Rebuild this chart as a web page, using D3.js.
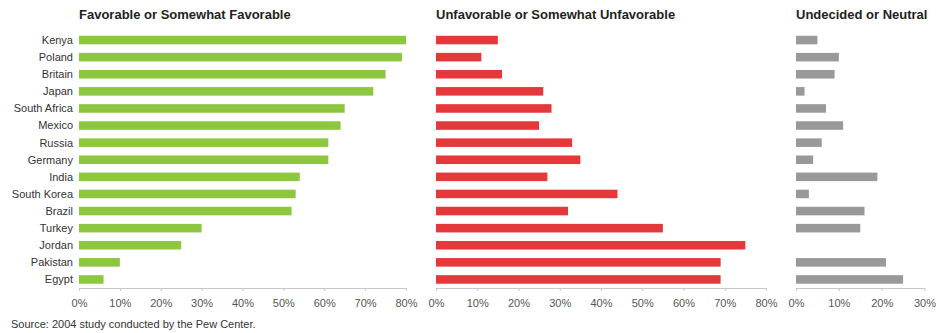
<!DOCTYPE html>
<html><head><meta charset="utf-8">
<script src="https://cdn.jsdelivr.net/npm/d3@7"></script>
<style>
body{margin:0;background:#fff;}
text{font-family:"Liberation Sans",Arial,sans-serif;}
</style></head>
<body><svg id="c" width="936" height="333"></svg>
<script>
const countries = ["Kenya","Poland","Britain","Japan","South Africa","Mexico","Russia","Germany","India","South Korea","Brazil","Turkey","Jordan","Pakistan","Egypt"];
const favorable   = [80,79,75,72,65,64,61,61,54,53,52,30,25,10,6];
const unfavorable = [15,11,16,26,28,25,33,35,27,44,32,55,75,69,69];
const undecided   = [5,10,9,2,7,11,6,4,19,3,16,15,0,21,25];
const titles = ["Favorable or Somewhat Favorable","Unfavorable or Somewhat Unfavorable","Undecided or Neutral"];
const ticks1 = [0,10,20,30,40,50,60,70,80];
const ticks3 = [0,10,20,30];
const colors = ["#8dc63f","#e5383b","#999999"];

const svg = d3.select("#c");
const y = d3.scaleBand().domain(countries).range([31.5,288]).paddingInner(0.5).paddingOuter(0.25);

const panels = [
  {x0:79, x1:406, vals:favorable, max:80, ticks:ticks1},
  {x0:436, x1:766, vals:unfavorable, max:80, ticks:ticks1},
  {x0:796, x1:924.5, vals:undecided, max:30, ticks:ticks3}
];

panels.forEach((p,i)=>{
  const x = d3.scaleLinear().domain([0,p.max]).range([p.x0,p.x1]);
  const g = svg.append("g");
  g.selectAll("rect").data(p.vals).join("rect")
    .attr("x", x(0))
    .attr("y", (d,j)=>y(countries[j]))
    .attr("width", d=>x(d)-x(0))
    .attr("height", y.bandwidth())
    .attr("fill", colors[i]);
  const ax = g.append("g").attr("transform","translate(0,288)")
    .call(d3.axisBottom(x).tickValues(p.ticks).tickFormat(d=>d+"%").tickSize(3).tickSizeOuter(0));
  ax.select(".domain").attr("stroke","#c8c8c8");
  ax.selectAll(".tick line").attr("stroke","#c8c8c8");
  ax.selectAll(".tick text").attr("fill","#555").attr("font-size","11px").attr("dy","1.2em")
    .attr("font-family","Liberation Sans, Arial, sans-serif");
  svg.append("text").attr("x",p.x0).attr("y",19).text(titles[i])
    .attr("font-weight","bold").attr("font-size","13px").attr("fill","#222");
});

svg.append("g").selectAll("text").data(countries).join("text")
  .attr("x",73).attr("y",d=>y(d)+y.bandwidth()/2).attr("dy","0.35em")
  .attr("text-anchor","end").attr("font-size","11px").attr("fill","#333").text(d=>d);

svg.append("text").attr("x",11).attr("y",328).attr("font-size","11px").attr("fill","#333")
  .text("Source: 2004 study conducted by the Pew Center.");
</script></body></html>
